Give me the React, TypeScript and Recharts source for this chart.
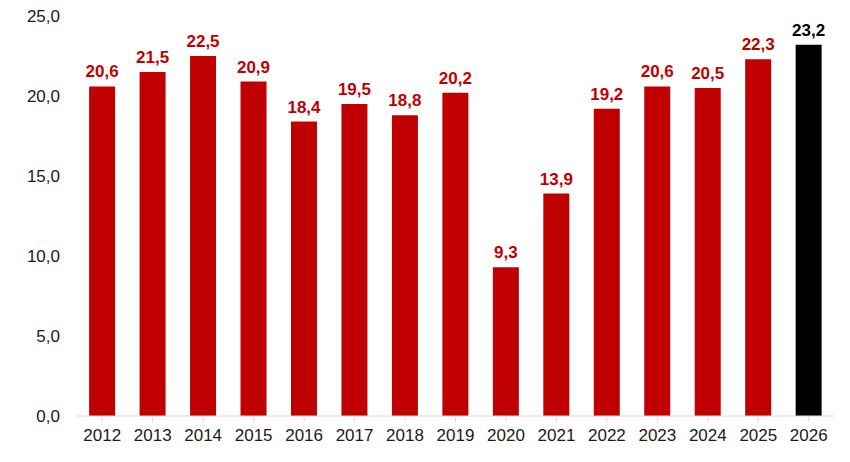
import { BarChart, Bar, XAxis, YAxis, LabelList, Cell } from "recharts";

const years = ["2012", "2013", "2014", "2015", "2016", "2017", "2018", "2019", "2020", "2021", "2022", "2023", "2024", "2025", "2026"];
const values = [20.6, 21.5, 22.5, 20.9, 18.4, 19.5, 18.8, 20.2, 9.3, 13.9, 19.2, 20.6, 20.5, 22.3, 23.2];
const yTicks = [0, 5, 10, 15, 20, 25];

const RED = "#C00000";
const BLACK = "#000000";

const data = years.map((year, i) => ({ year, value: values[i] }));

const fmt = (v: number) => v.toFixed(1).replace(".", ",");

export default function App() {
  const font = { fontFamily: "'Liberation Sans', Arial, sans-serif", fontSize: 17 };
  return (
    <div style={{ position: "absolute", left: 0, top: 0, background: "#fff" }}>
      <BarChart width={850} height={462} data={data} margin={{ top: 16, right: 16, left: 0, bottom: 0 }} barCategoryGap="24%">
        <XAxis
          dataKey="year"
          height={46}
          tick={{ ...font, fill: "#1a1a1a" }}
          axisLine={{ stroke: "#d9d9d9" }}
          tickLine={{ stroke: "#d9d9d9" }}
          tickSize={6}
          tickMargin={7}
          interval={0}
        />
        <YAxis
          width={77}
          domain={[0, 25]}
          ticks={yTicks}
          tickFormatter={fmt}
          tick={{ ...font, fill: "#1a1a1a" }}
          axisLine={false}
          tickLine={false}
          tickSize={8}
          tickMargin={9}
        />
        <Bar dataKey="value" isAnimationActive={false}>
          {data.map((d, i) => (
            <Cell key={d.year} fill={i === data.length - 1 ? BLACK : RED} />
          ))}
          <LabelList
            dataKey="value"
            position="top"
            content={(props: any) => {
              const { x, y, width, value, index } = props;
              return (
                <text
                  x={Number(x) + Number(width) / 2}
                  y={Number(y) - 9}
                  textAnchor="middle"
                  fill={index === data.length - 1 ? BLACK : RED}
                  style={{ ...font, fontWeight: "bold" }}
                >
                  {fmt(Number(value))}
                </text>
              );
            }}
          />
        </Bar>
      </BarChart>
    </div>
  );
}
